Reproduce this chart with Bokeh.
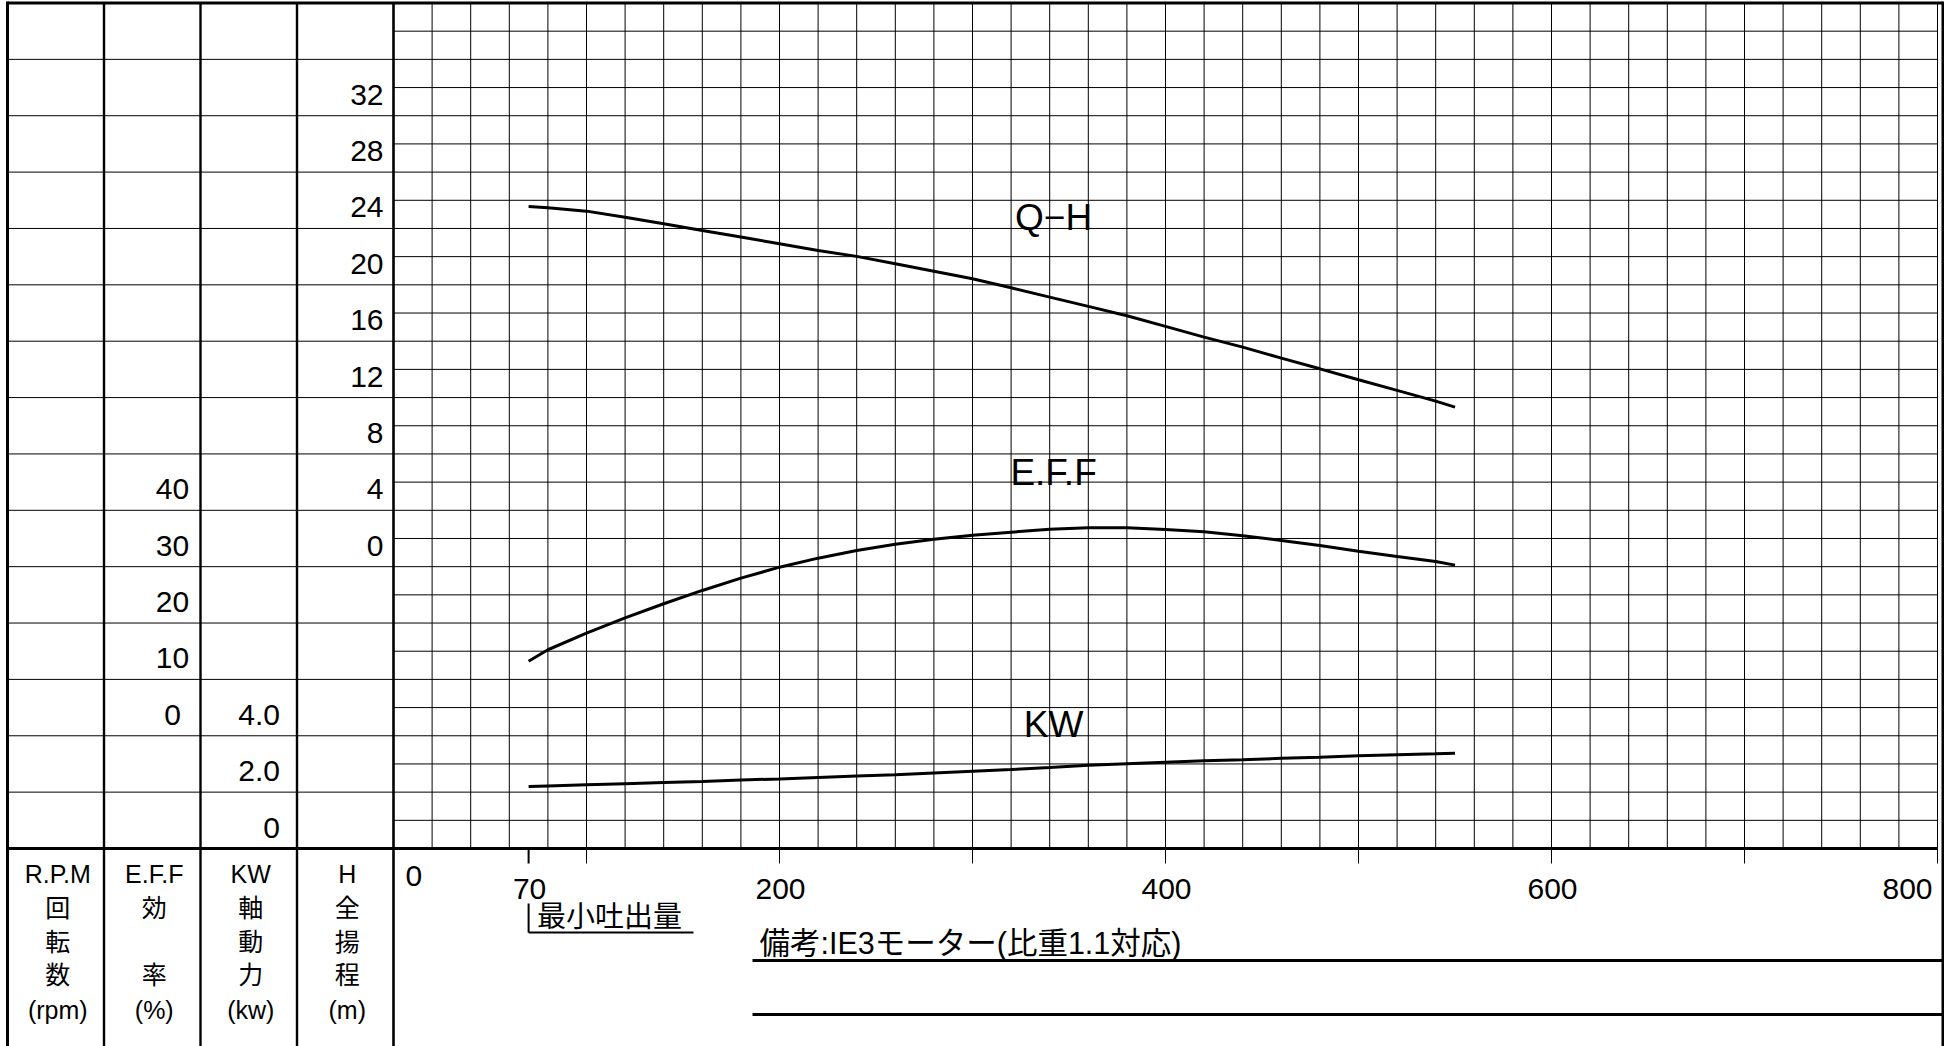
from bokeh.plotting import figure
from bokeh.models import Range1d, ColumnDataSource
from bokeh.embed import file_html
from bokeh.resources import INLINE
from bokeh.core.properties import value

# ---------------- data ----------------
flow = [70, 80, 100, 120, 140, 160, 180, 200, 220, 240, 260, 280, 300,
        320, 340, 360, 380, 400, 420, 440, 460, 480, 500, 520, 540, 550]
head_m = [25.56, 25.47, 25.23, 24.80, 24.34, 23.86, 23.39, 22.92, 22.44, 22.02,
          21.50, 20.97, 20.43, 19.79, 19.13, 18.47, 17.81, 17.05, 16.29, 15.58,
          14.80, 14.04, 13.26, 12.51, 11.75, 11.32]
eff_pct = [13.23, 15.26, 18.20, 20.93, 23.42, 25.78, 27.96, 29.91, 31.51, 32.87,
           33.99, 34.88, 35.59, 36.12, 36.65, 36.90, 36.90, 36.60, 36.19, 35.48,
           34.65, 33.76, 32.75, 31.81, 30.92, 30.27]
power_kw = [2.20, 2.22, 2.26, 2.30, 2.34, 2.38, 2.43, 2.47, 2.52, 2.57,
            2.62, 2.68, 2.74, 2.80, 2.87, 2.95, 3.01, 3.06, 3.11, 3.15,
            3.20, 3.24, 3.29, 3.33, 3.36, 3.38]

x_ticks = [70, 100, 200, 300, 400, 500, 600, 700, 800]
x_tick_labels = ["0", "70", "200", "400", "600", "800"]
x_tick_label_values = [0, 70, 200, 400, 600, 800]
h_tick_values = [0, 4, 8, 12, 16, 20, 24, 28, 32]
eff_tick_values = [0, 10, 20, 30, 40]
kw_tick_values = [0, 2, 4]
kw_tick_labels = ["0", "2.0", "4.0"]
header_lines = [
    ["R.P.M", "回", "転", "数", "(rpm)"],
    ["E.F.F", "効", "", "率", "(%)"],
    ["KW", "軸", "動", "力", "(kw)"],
    ["H", "全", "揚", "程", "(m)"],
]
curve_names = ["Q−H", "E.F.F", "KW"]
min_flow_text = "最小吐出量"
remark_text = "備考:IE3モーター(比重1.1対応)"

# ---------------- layout (page pixels) ----------------
W, H = 1944, 1046
X0_PX, X800_PX = 393.0, 1937.0          # flow 0 and flow 800
GTOP_PX, GBOT_PX = 2.5, 848.0            # top border and bottom (axis) line
N_MINOR = 30                             # minor grid rows
sx = (X800_PX - X0_PX) / 800.0
sy = (GBOT_PX - GTOP_PX) / N_MINOR

def py(px_below_axis):
    """pixels below axis line -> grid units"""
    return -px_below_axis / sy

def pxq(px):
    return (px - X0_PX) / sx

g_start = -(H - GBOT_PX) / sy
g_end = N_MINOR + GTOP_PX / sy

# secondary scales: value = units_per_minor * (g - zero_at)
SCALES = {"H": (10.0, 2.0), "EFF": (4.0, 5.0), "KW": (0.0, 1.0)}

FONT = value("Liberation Sans, Noto Sans CJK JP")
BLACK = "#000000"

p = figure(width=W, height=H, output_backend="svg", toolbar_location=None,
           x_range=Range1d(-X0_PX / sx, (W - X0_PX) / sx),
           y_range=Range1d(g_start, g_end),
           x_axis_type=None, y_axis_type=None, min_border=0,
           outline_line_color=None, margin=(0, 0, 0, 0))
p.background_fill_color = "white"
p.border_fill_color = "white"
for name, (z, u) in SCALES.items():
    p.extra_y_ranges[name] = Range1d(u * (g_start - z), u * (g_end - z))

COL_W = 50.0
col_edges = [-4 * COL_W, -3 * COL_W, -2 * COL_W, -COL_W, 0.0]
RIGHT_BORDER = pxq(1942.5)

# minor grid
vx = list(range(20, 801, 20))
p.segment(x0=vx, y0=0, x1=vx, y1=N_MINOR, line_color=BLACK, line_width=1)
hy = list(range(1, N_MINOR))
p.segment(x0=0, y0=hy, x1=800, y1=hy, line_color=BLACK, line_width=1)
# table row lines
ry = list(range(2, N_MINOR, 2))
p.segment(x0=col_edges[0], y0=ry, x1=0, y1=ry, line_color=BLACK, line_width=1)
# column lines
p.segment(x0=col_edges[1:4], y0=g_start, x1=col_edges[1:4], y1=N_MINOR,
          line_color=BLACK, line_width=2.4)
p.segment(x0=[0], y0=g_start, x1=[0], y1=N_MINOR, line_color=BLACK, line_width=2.6)
p.segment(x0=[col_edges[0], RIGHT_BORDER], y0=g_start,
          x1=[col_edges[0], RIGHT_BORDER], y1=N_MINOR + 0.05,
          line_color=BLACK, line_width=3)
# top border and axis line
p.segment(x0=col_edges[0], y0=N_MINOR, x1=RIGHT_BORDER, y1=N_MINOR,
          line_color=BLACK, line_width=3)
p.segment(x0=col_edges[0], y0=0, x1=800, y1=0, line_color=BLACK, line_width=3.2)

# x ticks below the axis line
p.segment(x0=x_ticks[1:], y0=0, x1=x_ticks[1:], y1=py(15), line_color=BLACK, line_width=1)
p.segment(x0=x_ticks[:1], y0=0, x1=x_ticks[:1], y1=py(15), line_color=BLACK, line_width=2)

# x tick labels
lab_font = "30px"
p.text(x=x_tick_label_values[:1], y=0, text=x_tick_labels[:1], text_font=FONT,
       text_font_size=lab_font, text_align="left", text_baseline="middle",
       x_offset=12, y_offset=27, text_color=BLACK)
p.text(x=x_tick_label_values[1:-1], y=0, text=x_tick_labels[1:-1], text_font=FONT,
       text_font_size=lab_font, text_align="center", text_baseline="middle",
       x_offset=1, y_offset=40, text_color=BLACK)
p.text(x=x_tick_label_values[-1:], y=0, text=x_tick_labels[-1:], text_font=FONT,
       text_font_size=lab_font, text_align="right", text_baseline="middle",
       x_offset=-5, y_offset=40, text_color=BLACK)

# left table scale labels
LBL_DY = -21
p.text(x=0, y=h_tick_values, text=[str(v) for v in h_tick_values], y_range_name="H",
       text_font=FONT, text_font_size=lab_font, text_align="right",
       text_baseline="middle", x_offset=-10, y_offset=LBL_DY, text_color=BLACK)
p.text(x=col_edges[2], y=eff_tick_values, text=[str(v) for v in eff_tick_values],
       y_range_name="EFF", text_font=FONT, text_font_size=lab_font,
       text_align="center", text_baseline="middle", x_offset=-28, y_offset=LBL_DY,
       text_color=BLACK)
p.text(x=col_edges[3], y=kw_tick_values, text=kw_tick_labels, y_range_name="KW",
       text_font=FONT, text_font_size=lab_font, text_align="right",
       text_baseline="middle", x_offset=-17, y_offset=LBL_DY, text_color=BLACK)

# header texts in the bottom row
line_offsets = [25, 59, 93, 126, 161]
hx, hyo, ht = [], [], []
for ci, lines in enumerate(header_lines):
    cx = (col_edges[ci] + col_edges[ci + 1]) / 2.0
    for li, t in enumerate(lines):
        hx.append(cx)
        hyo.append(line_offsets[li])
        ht.append(t)
hsrc = ColumnDataSource(dict(x=hx, yo=hyo, t=ht))
p.text(x="x", y=0, text="t", y_offset="yo", source=hsrc, text_font=FONT,
       text_font_size="25px", text_align="center", text_baseline="middle",
       x_offset=2, text_color=BLACK)

# curves
p.line(flow, head_m, y_range_name="H", line_color=BLACK, line_width=3)
p.line(flow, eff_pct, y_range_name="EFF", line_color=BLACK, line_width=3)
p.line(flow, power_kw, y_range_name="KW", line_color=BLACK, line_width=3)

# curve names (anchored at their cap-height centre, in each curve's own scale)
LABEL_X = 342
p.text(x=[LABEL_X], y=[24.8], text=curve_names[:1], y_range_name="H", text_font=FONT,
       text_font_size="37px", text_align="center", text_baseline="middle",
       text_color=BLACK)
p.text(x=[LABEL_X], y=[46.76], text=curve_names[1:2], y_range_name="EFF", text_font=FONT,
       text_font_size="37px", text_align="center", text_baseline="middle",
       text_color=BLACK)
p.text(x=[LABEL_X], y=[4.40], text=curve_names[2:], y_range_name="KW", text_font=FONT,
       text_font_size="37px", text_align="center", text_baseline="middle",
       text_color=BLACK)

# minimum flow marker
MINQ = x_ticks[0]
p.segment(x0=[MINQ], y0=[py(55)], x1=[MINQ], y1=[py(84)], line_color=BLACK, line_width=2)
p.segment(x0=[MINQ], y0=[py(84)], x1=[pxq(693)], y1=[py(84)], line_color=BLACK, line_width=2)
p.text(x=[MINQ], y=[0], text=[min_flow_text], text_font=FONT, text_font_size="29px",
       text_align="left", text_baseline="middle", x_offset=8.5, y_offset=68,
       text_color=BLACK)

# remark area
REMARK_X = pxq(752)
p.text(x=[REMARK_X], y=[0], text=[remark_text], text_font=FONT, text_font_size="30.5px",
       text_align="left", text_baseline="middle", x_offset=7, y_offset=94.5,
       text_color=BLACK)
p.segment(x0=REMARK_X, y0=[py(112), py(166)], x1=RIGHT_BORDER, y1=[py(112), py(166)],
          line_color=BLACK, line_width=3)

open("out.html", "w").write(file_html(p, INLINE))
